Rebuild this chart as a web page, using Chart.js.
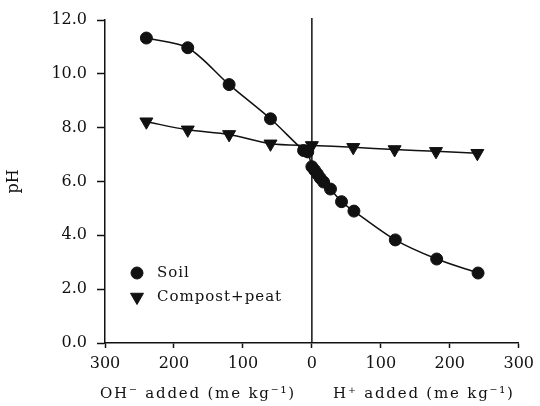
<!doctype html>
<html lang="en">
<head>
<meta charset="utf-8">
<title>pH titration</title>
<script src="https://cdn.jsdelivr.net/npm/chart.js@4.4.1/dist/chart.umd.min.js"></script>
<style>
  html, body { margin: 0; padding: 0; background: #fff; }
  #wrap { position: relative; width: 540px; height: 406px; }
</style>
</head>
<body>
<div id="wrap"><canvas id="chart"></canvas></div>
<script>
// acid/base added: negative = OH- added, positive = H+ added (me kg-1)
const soilX  = [-240, -180, -120, -60, -12, -6, 0, 4, 8, 12, 17, 27, 43, 61, 121, 181, 241];
const soilPH = [11.33, 10.97, 9.6, 8.33, 7.15, 7.1, 6.55, 6.42, 6.28, 6.13, 5.98, 5.72, 5.25, 4.9, 3.83, 3.12, 2.6];

const compostX  = [-240, -180, -120, -60, 0, 60, 120, 180, 240];
const compostPH = [8.22, 7.92, 7.75, 7.4, 7.34, 7.27, 7.19, 7.12, 7.05];

const seriesNames = ['Soil', 'Compost+peat'];
const xTitleLeft = 'OH\u207B added (me kg\u207B\u00B9)';
const xTitleRight = 'H\u207A added (me kg\u207B\u00B9)';
const yTitle = 'pH';

const FONT = '"DejaVu Serif", "Liberation Serif", serif';
const INK = '#111';

const toPts = (xs, ys) => xs.map((x, i) => ({ x, y: ys[i] }));

// vertical line at zero, legend inside the plot, two-part x title
const extras = {
  id: 'extras',
  beforeDatasetsDraw(chart) {
    const { ctx, chartArea, scales } = chart;
    const x0 = scales.x.getPixelForValue(0);
    ctx.save();
    ctx.strokeStyle = INK;
    ctx.lineWidth = 1.5;
    ctx.beginPath();
    ctx.moveTo(x0, chartArea.top - 2);
    ctx.lineTo(x0, chartArea.bottom);
    ctx.stroke();
    ctx.restore();
  },
  afterDraw(chart) {
    const { ctx, chartArea } = chart;
    ctx.save();
    // legend
    const lx = chartArea.left + 32;
    const rows = [chartArea.top + 253, chartArea.top + 277];
    chart.data.datasets.forEach((ds, i) => {
      ctx.fillStyle = INK;
      ctx.strokeStyle = INK;
      ctx.lineWidth = 1;
      Chart.helpers.drawPoint(ctx, {
        pointStyle: ds.pointStyle,
        rotation: ds.pointRotation || 0,
        radius: ds.pointRadius,
        borderWidth: 1
      }, lx, rows[i]);
      ctx.font = '15px ' + FONT;
      ctx.textAlign = 'left';
      ctx.textBaseline = 'middle';
      if ('letterSpacing' in ctx) ctx.letterSpacing = '1px';
      ctx.fillText(seriesNames[i], lx + 20, rows[i]);
    });
    // x titles
    ctx.font = '15px ' + FONT;
    ctx.textBaseline = 'alphabetic';
    if ('letterSpacing' in ctx) ctx.letterSpacing = '1.8px';
    ctx.fillStyle = INK;
    ctx.fillText(xTitleLeft, chartArea.left - 5, chartArea.bottom + 55);
    ctx.fillText(xTitleRight, chartArea.left + 228, chartArea.bottom + 55);
    ctx.restore();
  }
};

new Chart(document.getElementById('chart'), {
  type: 'line',
  data: {
    datasets: [
      {
        label: seriesNames[0],
        data: toPts(soilX, soilPH),
        borderColor: INK,
        backgroundColor: INK,
        borderWidth: 1.5,
        pointStyle: 'circle',
        pointRadius: 6,
        pointBorderWidth: 1,
        pointBackgroundColor: INK,
        pointBorderColor: INK,
        tension: 0.3,
        fill: false
      },
      {
        label: seriesNames[1],
        data: toPts(compostX, compostPH),
        borderColor: INK,
        backgroundColor: INK,
        borderWidth: 1.5,
        pointStyle: 'triangle',
        pointRotation: 180,
        pointRadius: 7.5,
        pointBorderWidth: 1,
        pointBackgroundColor: INK,
        pointBorderColor: INK,
        tension: 0.3,
        fill: false
      }
    ]
  },
  options: {
    responsive: true,
    maintainAspectRatio: false,
    animation: false,
    layout: { padding: { top: 20, right: 19, left: 0, bottom: 0 } },
    plugins: {
      legend: { display: false },
      tooltip: { enabled: false }
    },
    scales: {
      x: {
        type: 'linear',
        min: -300,
        max: 300,
        afterFit: (s) => { s.height = 63; },
        border: { display: true, color: INK, width: 1.5 },
        grid: { drawOnChartArea: false, drawTicks: true, tickLength: 5, tickColor: INK, tickWidth: 1.5 },
        ticks: {
          stepSize: 100,
          padding: 6,
          color: INK,
          font: { family: FONT, size: 16 },
          maxRotation: 0,
          callback: (v) => String(Math.abs(v))
        }
      },
      y: {
        min: 0,
        max: 12,
        afterFit: (s) => { s.width = 105; },
        border: { display: true, color: INK, width: 1.5 },
        grid: { drawOnChartArea: false, drawTicks: true, tickLength: 8, tickColor: INK, tickWidth: 1.5 },
        ticks: {
          stepSize: 2,
          padding: 10,
          color: INK,
          font: { family: FONT, size: 16 },
          callback: (v) => v.toFixed(1)
        },
        title: {
          display: true,
          text: yTitle,
          color: INK,
          font: { family: FONT, size: 16 },
          padding: { top: 4, bottom: 0 }
        }
      }
    }
  },
  plugins: [extras]
});
</script>
</body>
</html>
